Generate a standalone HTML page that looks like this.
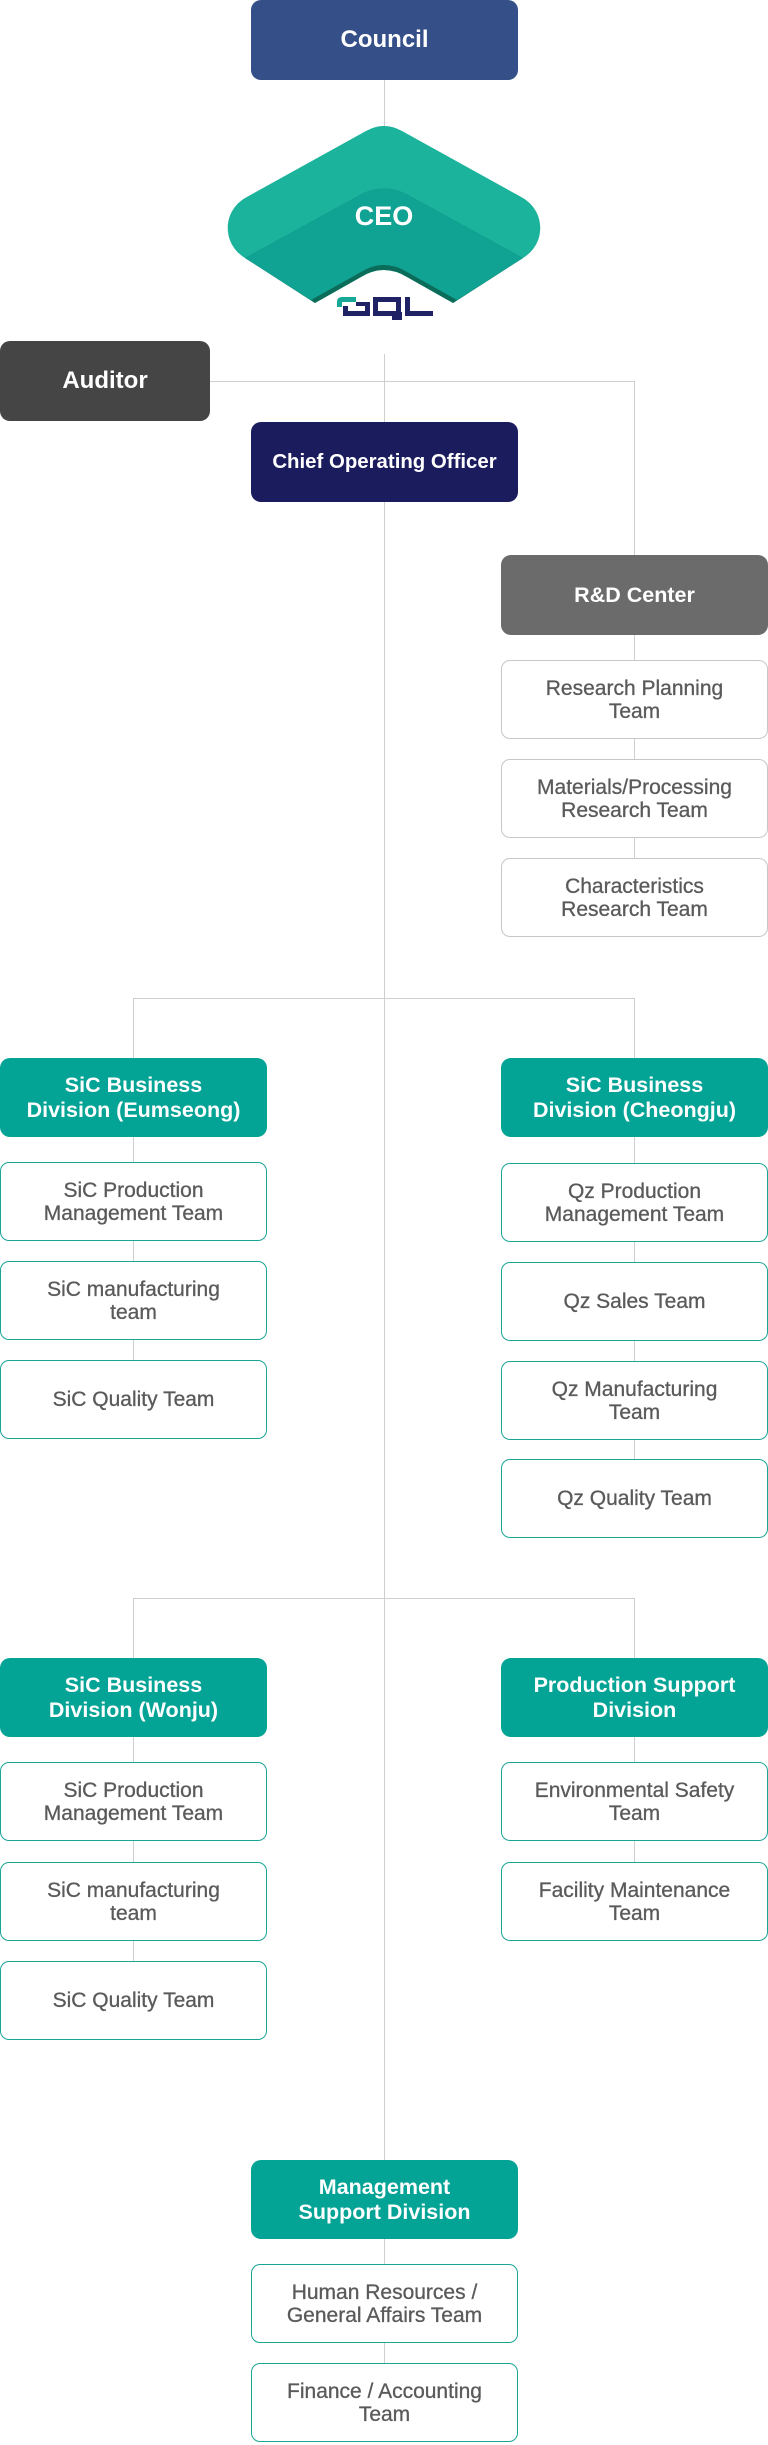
<!DOCTYPE html>
<html>
<head>
<meta charset="utf-8">
<style>
  html, body { margin:0; padding:0; background:#fff; }
  body { width:768px; height:2445px; position:relative; overflow:hidden;
         font-family:"Liberation Sans", Arial, sans-serif; }
  .ln { position:absolute; background:#cfcfcf; }
  .bx { position:absolute; box-sizing:border-box; display:flex; align-items:center;
        justify-content:center; text-align:center; white-space:nowrap; border-radius:10px; }
  .top { color:#fff; font-weight:bold; font-size:24px; }
  .div { width:267px; height:79px; background:#03a395; color:#fff; font-weight:bold;
         font-size:21.5px; line-height:25px; }
  .team { width:267px; height:79px; background:#fff; border:1.5px solid #1aa597; color:#5a5a5a;
          font-size:21px; line-height:23px; border-radius:9px; -webkit-text-stroke:0.3px #5a5a5a; }
  .team.g { border-color:#c6c6c6; }
</style>
</head>
<body>

<!-- connector lines -->
<div class="ln" style="left:384px; top:80px; width:1px; height:46px;"></div>
<div class="ln" style="left:384px; top:354px; width:1px; height:2014px;"></div>
<div class="ln" style="left:210px; top:381px; width:425px; height:1px;"></div>
<div class="ln" style="left:634px; top:381px; width:1px; height:556px;"></div>

<div class="ln" style="left:133px; top:998px; width:502px; height:1px;"></div>
<div class="ln" style="left:133px; top:998px; width:1px; height:441px;"></div>
<div class="ln" style="left:634px; top:998px; width:1px; height:539px;"></div>

<div class="ln" style="left:133px; top:1598px; width:502px; height:1px;"></div>
<div class="ln" style="left:133px; top:1598px; width:1px; height:441px;"></div>
<div class="ln" style="left:634px; top:1598px; width:1px; height:342px;"></div>

<!-- Council -->
<div class="bx top" style="left:251px; top:0; width:267px; height:80px; background:#354f89;">Council</div>

<!-- CEO shape -->
<svg style="position:absolute; left:0; top:0;" width="768" height="340" viewBox="0 0 768 340">
  <path d="M245,198 L366,131 Q384,121 402,131 L523,198 C546,212 546,244 523,258 L453,303 L407,277 Q384,263 361,277 L315,303 L245,258 C222,244 222,212 245,198 Z" fill="#1bb39b"/>
  <path d="M245,258 L360,195 Q384,182 408,195 L523,258 L453,303 L407,277 Q384,263 361,277 L315,303 Z" fill="#0b6c5a"/>
  <path d="M245,258 L360,195 Q384,182 408,195 L523,258 L457,300 L407,272 Q384,258 361,272 L311,300 Z" fill="#10a394"/>
  <text x="384" y="225" font-family="Liberation Sans, Arial, sans-serif" font-size="27" font-weight="bold" fill="#fff" text-anchor="middle">CEO</text>
  <!-- GQL logo -->
  <path d="M342,297 H356 V302 H342 V307 H337 V302 Q337,297 342,297 Z" fill="#17a898"/>
  <path d="M343,306 H348 V311 H365 V306 H356 V302 H370 V316 H343 Z" fill="#1f2366"/>
  <path d="M373,297 H401 V316 H373 Z M378,302 V311 H396 V302 Z" fill="#1f2366" fill-rule="evenodd"/>
  <rect x="392" y="312" width="10" height="8" fill="#1f2366"/>
  <path d="M405,297 H410 V311 H433 V316 H405 Z" fill="#1f2366"/>
</svg>

<!-- Auditor -->
<div class="bx top" style="left:0; top:341px; width:210px; height:80px; background:#454545;">Auditor</div>

<!-- COO -->
<div class="bx top" style="left:251px; top:422px; width:267px; height:80px; background:#1b1c5e; font-size:20.4px;">Chief Operating Officer</div>

<!-- R&D -->
<div class="bx top" style="left:501px; top:555px; width:267px; height:80px; background:#6b6b6b; font-size:21.5px;">R&amp;D Center</div>
<div class="bx team g" style="left:501px; top:660px;">Research Planning<br>Team</div>
<div class="bx team g" style="left:501px; top:759px;">Materials/Processing<br>Research Team</div>
<div class="bx team g" style="left:501px; top:858px;">Characteristics<br>Research Team</div>

<!-- Eumseong -->
<div class="bx div" style="left:0; top:1058px;">SiC Business<br>Division (Eumseong)</div>
<div class="bx team" style="left:0; top:1162px;">SiC Production<br>Management Team</div>
<div class="bx team" style="left:0; top:1261px;">SiC manufacturing<br>team</div>
<div class="bx team" style="left:0; top:1360px;">SiC Quality Team</div>

<!-- Cheongju -->
<div class="bx div" style="left:501px; top:1058px;">SiC Business<br>Division (Cheongju)</div>
<div class="bx team" style="left:501px; top:1163px;">Qz Production<br>Management Team</div>
<div class="bx team" style="left:501px; top:1262px;">Qz Sales Team</div>
<div class="bx team" style="left:501px; top:1361px;">Qz Manufacturing<br>Team</div>
<div class="bx team" style="left:501px; top:1459px;">Qz Quality Team</div>

<!-- Wonju -->
<div class="bx div" style="left:0; top:1658px;">SiC Business<br>Division (Wonju)</div>
<div class="bx team" style="left:0; top:1762px;">SiC Production<br>Management Team</div>
<div class="bx team" style="left:0; top:1862px;">SiC manufacturing<br>team</div>
<div class="bx team" style="left:0; top:1961px;">SiC Quality Team</div>

<!-- Production Support -->
<div class="bx div" style="left:501px; top:1658px;">Production Support<br>Division</div>
<div class="bx team" style="left:501px; top:1762px;">Environmental Safety<br>Team</div>
<div class="bx team" style="left:501px; top:1862px;">Facility Maintenance<br>Team</div>

<!-- Management Support -->
<div class="bx div" style="left:251px; top:2160px;">Management<br>Support Division</div>
<div class="bx team" style="left:251px; top:2264px;">Human Resources /<br>General Affairs Team</div>
<div class="bx team" style="left:251px; top:2363px;">Finance / Accounting<br>Team</div>

</body>
</html>
